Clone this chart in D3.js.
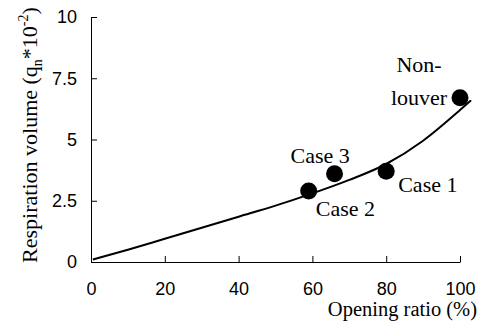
<!DOCTYPE html>
<html>
<head>
<meta charset="utf-8">
<title>Respiration volume</title>
<script src="https://d3js.org/d3.v7.min.js"></script>
<style>
  body { margin: 0; background: #fff; }
</style>
</head>
<body>
<script>
// data
const xTicks = [0, 20, 40, 60, 80, 100];
const yTicks = [0, 2.5, 5, 7.5, 10];
const yTickLabels = ["0", "2.5", "5", "7.5", "10"];

const caseNames = ["Non-louver", "Case 1", "Case 3", "Case 2"];
const caseX = [100, 80, 66, 59];
const caseY = [6.7, 3.7, 3.6, 2.9];

// fitted curve
const curveX = [0.5, 10, 20, 30, 40, 50, 60, 70, 80, 90, 100, 103];
const curveY = [0.1, 0.5, 0.95, 1.4, 1.85, 2.3, 2.8, 3.35, 4.0, 4.95, 6.2, 6.6];

const width = 480, height = 322;
const svg = d3.select("body").append("svg")
  .attr("width", width)
  .attr("height", height);

const x = d3.scaleLinear().domain([0, 100]).range([91, 460]);
const y = d3.scaleLinear().domain([0, 10]).range([262, 17]);

// axes, ticks pointing inward
const xAxis = svg.append("g")
  .attr("transform", "translate(0," + y(0) + ")")
  .call(d3.axisBottom(x).tickValues(xTicks).tickSizeInner(-6).tickSizeOuter(0).tickPadding(20));
const yAxis = svg.append("g")
  .attr("transform", "translate(" + x(0) + ",0)")
  .call(d3.axisLeft(y).tickValues(yTicks).tickSizeInner(-6).tickSizeOuter(0).tickPadding(14)
    .tickFormat((d, i) => yTickLabels[i]));

[xAxis, yAxis].forEach(g => {
  g.selectAll("path, line").attr("stroke", "#000").attr("stroke-width", 1);
  g.selectAll("text")
    .attr("font-family", "Liberation Sans, Arial, sans-serif")
    .attr("font-size", 18)
    .attr("fill", "#000");
});

// curve
const line = d3.line()
  .x((d, i) => x(curveX[i]))
  .y((d, i) => y(curveY[i]))
  .curve(d3.curveMonotoneX);
svg.append("path")
  .attr("d", line(curveX))
  .attr("fill", "none")
  .attr("stroke", "#000")
  .attr("stroke-width", 2);

// points
svg.selectAll("circle.pt")
  .data(caseX)
  .enter().append("circle")
  .attr("class", "pt")
  .attr("cx", d => x(d))
  .attr("cy", (d, i) => y(caseY[i]))
  .attr("r", 8.5)
  .attr("fill", "#000");

// point labels (offsets from the dot)
const serif = "Liberation Serif, Times New Roman, serif";
const labelOffsets = [
  { dx: -41, dy: [-26, 7], lines: ["Non-", "louver"], anchor: "middle" },
  { dx: 12, dy: [21], lines: ["Case 1"], anchor: "start" },
  { dx: -44, dy: [-11], lines: ["Case 3"], anchor: "start" },
  { dx: 7, dy: [25], lines: ["Case 2"], anchor: "start" }
];
caseX.forEach((cx, i) => {
  const o = labelOffsets[i];
  o.lines.forEach((s, k) => {
    svg.append("text")
      .attr("font-family", serif)
      .attr("font-size", 22)
      .attr("text-anchor", o.anchor)
      .attr("x", x(cx) + o.dx)
      .attr("y", y(caseY[i]) + o.dy[k])
      .text(s);
  });
});

// axis titles
svg.append("text")
  .attr("font-family", serif)
  .attr("font-size", 20.5)
  .attr("text-anchor", "end")
  .attr("x", 477)
  .attr("y", 316)
  .text("Opening ratio (%)");

const yt = svg.append("text")
  .attr("font-family", serif)
  .attr("font-size", 22)
  .attr("text-anchor", "middle")
  .attr("transform", "translate(37,135) rotate(-90)");
yt.append("tspan").text("Respiration volume (q");
yt.append("tspan").attr("font-size", 14).attr("dy", 5).text("n");
yt.append("tspan").attr("dy", -5).text("*10");
yt.append("tspan").attr("font-size", 14).attr("dy", -9).text("-2");
yt.append("tspan").attr("dy", 9).text(")");
</script>
</body>
</html>
